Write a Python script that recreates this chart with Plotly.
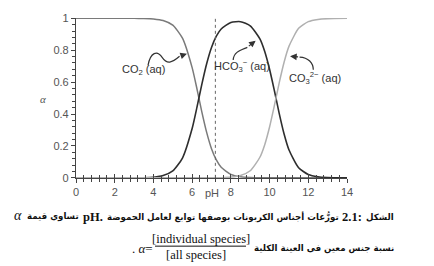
import json
import plotly.graph_objects as go

# ---------------- data ----------------
ph = [0, 1, 2, 3, 3.5, 4, 4.5, 5, 5.5, 6, 6.25, 6.5, 6.75, 7, 7.25, 7.5, 8, 8.5,
      9, 9.5, 9.75, 10, 10.25, 10.5, 10.75, 11, 11.5, 12, 12.5, 13, 14]
alpha_co2 = [1, 1, 1, 1, 0.999, 0.996, 0.986, 0.957, 0.876, 0.691, 0.557, 0.414, 0.285,
             0.183, 0.112, 0.066, 0.022, 0.007, 0.002, 0.0006, 0, 0, 0, 0, 0, 0, 0, 0, 0, 0, 0]
alpha_hco3 = [0, 0, 0, 0, 0.001, 0.004, 0.014, 0.043, 0.124, 0.309, 0.443, 0.586, 0.715,
              0.817, 0.888, 0.933, 0.974, 0.979, 0.953, 0.871, 0.792, 0.681, 0.546, 0.403,
              0.275, 0.176, 0.063, 0.021, 0.0067, 0.002, 0]
alpha_co3 = [0, 0, 0, 0, 0, 0, 0, 0, 0, 0, 0, 0, 0, 0, 0, 0.001, 0.0046, 0.0145, 0.0446,
             0.129, 0.208, 0.319, 0.454, 0.597, 0.725, 0.824, 0.937, 0.979, 0.993, 0.998, 1]
ph_marker = 7.2

x_ticks = [0, 2, 4, 6, 8, 10, 12, 14]
y_ticks = [0, 0.2, 0.4, 0.6, 0.8, 1]
y_tick_text = ["0", "0.2", "0.4", "0.6", "0.8", "1"]

# ---------------- layout helpers ----------------
W, H = 434, 266
L, R, T, B = 76, 347, 16, 178


def px(xp):
    return (xp - L) / (R - L)


def py(yp):
    return (B - yp) / (B - T)


fig = go.Figure()
fig.add_trace(go.Scatter(x=ph, y=alpha_co2, mode="lines", line=dict(color="#7a7a7a", width=1.5, shape="spline", smoothing=0.6), hoverinfo="skip"))
fig.add_trace(go.Scatter(x=ph, y=alpha_hco3, mode="lines", line=dict(color="#2e2e2e", width=1.6, shape="spline", smoothing=0.6), hoverinfo="skip"))
fig.add_trace(go.Scatter(x=ph, y=alpha_co3, mode="lines", line=dict(color="#b0b0b0", width=1.5, shape="spline", smoothing=0.6), hoverinfo="skip"))

# helper trace to get ticks on both sides of the x axis
fig.add_trace(go.Scatter(x=[0, 14], y=[0, 0], xaxis="x2", mode="lines", line=dict(width=0), hoverinfo="skip"))

axis_col = "#444444"
tick_font = dict(family="Liberation Sans, Arial, sans-serif", size=11, color="#555555")

fig.update_layout(
    width=W, height=H,
    margin=dict(l=L, r=W - R, t=T, b=H - B),
    paper_bgcolor="white", plot_bgcolor="white",
    showlegend=False,
    xaxis=dict(range=[0, 14], tickvals=x_ticks, ticks="outside", ticklen=4, tickwidth=1,
               tickcolor=axis_col, showline=True, linecolor=axis_col, linewidth=1.2,
               showgrid=False, zeroline=False, tickfont=tick_font, ticklabelstandoff=0,
               minor=dict(dtick=0.4, tick0=0, ticks="outside", ticklen=3, tickcolor=axis_col)),
    xaxis2=dict(range=[0, 14], overlaying="x", anchor="y", side="bottom", tickvals=x_ticks,
                ticks="inside", ticklen=4, tickcolor=axis_col, showticklabels=False,
                showline=False, showgrid=False, zeroline=False,
                minor=dict(dtick=0.4, tick0=0, ticks="inside", ticklen=3, tickcolor=axis_col)),
    yaxis=dict(range=[-0.001, 1.002], tickvals=y_ticks, ticktext=y_tick_text, ticks="outside",
               ticklen=4, tickcolor=axis_col, showline=True, linecolor=axis_col, linewidth=1.2,
               showgrid=False, zeroline=False, tickfont=tick_font,
               minor=dict(dtick=0.04, tick0=0, ticks="outside", ticklen=3, tickcolor=axis_col)),
)

# dotted reference line
fig.add_shape(type="line", x0=ph_marker, x1=ph_marker, y0=0, y1=1.0, xref="x", yref="y",
              line=dict(color="#666666", width=1, dash="dot"))

# curved arrow tails
arrow_col = "#333333"
fig.add_shape(type="path", xref="x", yref="y",
              path="M 3.72 0.705 C 3.85 0.79, 4.2 0.80, 4.45 0.755 S 4.95 0.72, 5.35 0.762",
              line=dict(color=arrow_col, width=1.2))
fig.add_shape(type="path", xref="x", yref="y",
              path="M 8.12 0.739 C 8.15 0.79, 8.5 0.80, 8.85 0.818",
              line=dict(color=arrow_col, width=1.2))
fig.add_shape(type="path", xref="x", yref="y",
              path="M 12.26 0.677 C 12.26 0.72, 12.0 0.755, 11.55 0.757",
              line=dict(color=arrow_col, width=1.2))

# arrow heads
for (x0, y0, x1, y1) in [(5.35, 0.762, 5.73, 0.778), (8.85, 0.818, 9.28, 0.86), (11.55, 0.757, 11.06, 0.762)]:
    fig.add_annotation(x=x1, y=y1, ax=x0, ay=y0, xref="x", yref="y", axref="x", ayref="y",
                       text="", showarrow=True, arrowhead=2, arrowsize=1.1, arrowwidth=1.2,
                       arrowcolor=arrow_col)

lab_font = dict(family="Liberation Sans, Arial, sans-serif", size=11, color="#333333")
fig.add_annotation(x=3.51, y=0.673, xref="x", yref="y", text="CO<sub>2</sub> (aq)",
                   showarrow=False, font=lab_font, xanchor="center", yanchor="middle")
fig.add_annotation(x=8.58, y=0.70, xref="x", yref="y", text="HCO<sub>3</sub><sup>−</sup> (aq)",
                   showarrow=False, font=lab_font, xanchor="center", yanchor="middle")
fig.add_annotation(x=12.35, y=0.625, xref="x", yref="y", text="CO<sub>3</sub><sup>2−</sup> (aq)",
                   showarrow=False, font=lab_font, xanchor="center", yanchor="middle")


def note(xp, yp, text, font, xanchor="center"):
    idx = len(fig.layout.annotations)
    fig.add_annotation(x=px(xp), y=py(yp), xref="paper", yref="paper", text=text,
                       showarrow=False, font=font, xanchor=xanchor, yanchor="middle")
    return idx


# axis titles
note(212, 193, "pH", dict(family="Liberation Sans, Arial, sans-serif", size=11, color="#555555"))
note(43, 98, "<i>α</i>", dict(family="Liberation Serif, serif", size=11, color="#555555"))

# caption, line 1 (split into runs so the right-to-left order is fixed)
AR_SIZE = 9.5
ar_font = dict(family="DejaVu Sans, sans-serif", size=AR_SIZE, color="#111111", weight="bold")
serif_b = dict(family="Liberation Serif, serif", size=12.5, color="#111111", weight="bold")
runs = [
    (note(396, 217, "الشكل", ar_font, "right"), True),
    (note(366, 217, "2.1:", serif_b, "right"), False),
    (note(346, 217, "توزُّعات أجناس الكربونات بوصفها توابع لعامل الحموضة", ar_font, "right"), True),
    (note(101, 217, "pH.", serif_b, "right"), False),
    (note(80, 217, "تساوي قيمة", ar_font, "right"), True),
]
note(18, 216, "<i>α</i>", dict(family="Liberation Serif, serif", size=14, color="#111111"))

# caption, line 2
line2_idx = note(396, 249, "نسبة جنس معين في العينة الكلية", ar_font, "right")

serif = dict(family="Liberation Serif, serif", size=12.5, color="#111111")
note(201, 240, "[individual species]", serif)
note(196, 256, "[all species]", serif)
fig.add_shape(type="line", xref="paper", yref="paper", x0=px(155), x1=px(246), y0=py(247), y1=py(247),
              line=dict(color="#111111", width=1))
note(155, 249, ". <i>α</i>=", dict(family="Liberation Serif, serif", size=13, color="#111111"), "right")

# place the caption runs side by side, right to left, fitted between x=396 and x=29
js = """
(function(){
  var gd = document.getElementById('{plot_id}');
  var runs = RUNS, base = BASE, line2 = LINE2;
  var right = 396, left = 29, gap = 4, L = 76, PW = 271;
  function w(i){
    var el = gd.querySelector('g.annotation[data-index="' + i + '"] text.annotation-text');
    return el ? el.getBBox().width : 0;
  }
  var ar = 0, la = 0, ws = {};
  runs.forEach(function(r){ var v = w(r[0]); ws[r[0]] = v; if (r[1]) ar += v; else la += v; });
  if (ar <= 0) return;
  var s = (right - left - la - gap * (runs.length - 1)) / ar;
  var upd = {}, x = right;
  runs.forEach(function(r){
    var ww = ws[r[0]] * (r[1] ? s : 1);
    upd['annotations[' + r[0] + '].x'] = (x - L) / PW;
    if (r[1]) upd['annotations[' + r[0] + '].font.size'] = base * s;
    x -= ww + gap;
  });
  upd['annotations[' + line2 + '].font.size'] = base * s;
  Plotly.relayout(gd, upd);
})();
"""
js = (js.replace("RUNS", json.dumps([[i, a] for i, a in runs]))
        .replace("BASE", str(AR_SIZE)).replace("LINE2", str(line2_idx)))

fig.write_html("out.html", post_script=js)
